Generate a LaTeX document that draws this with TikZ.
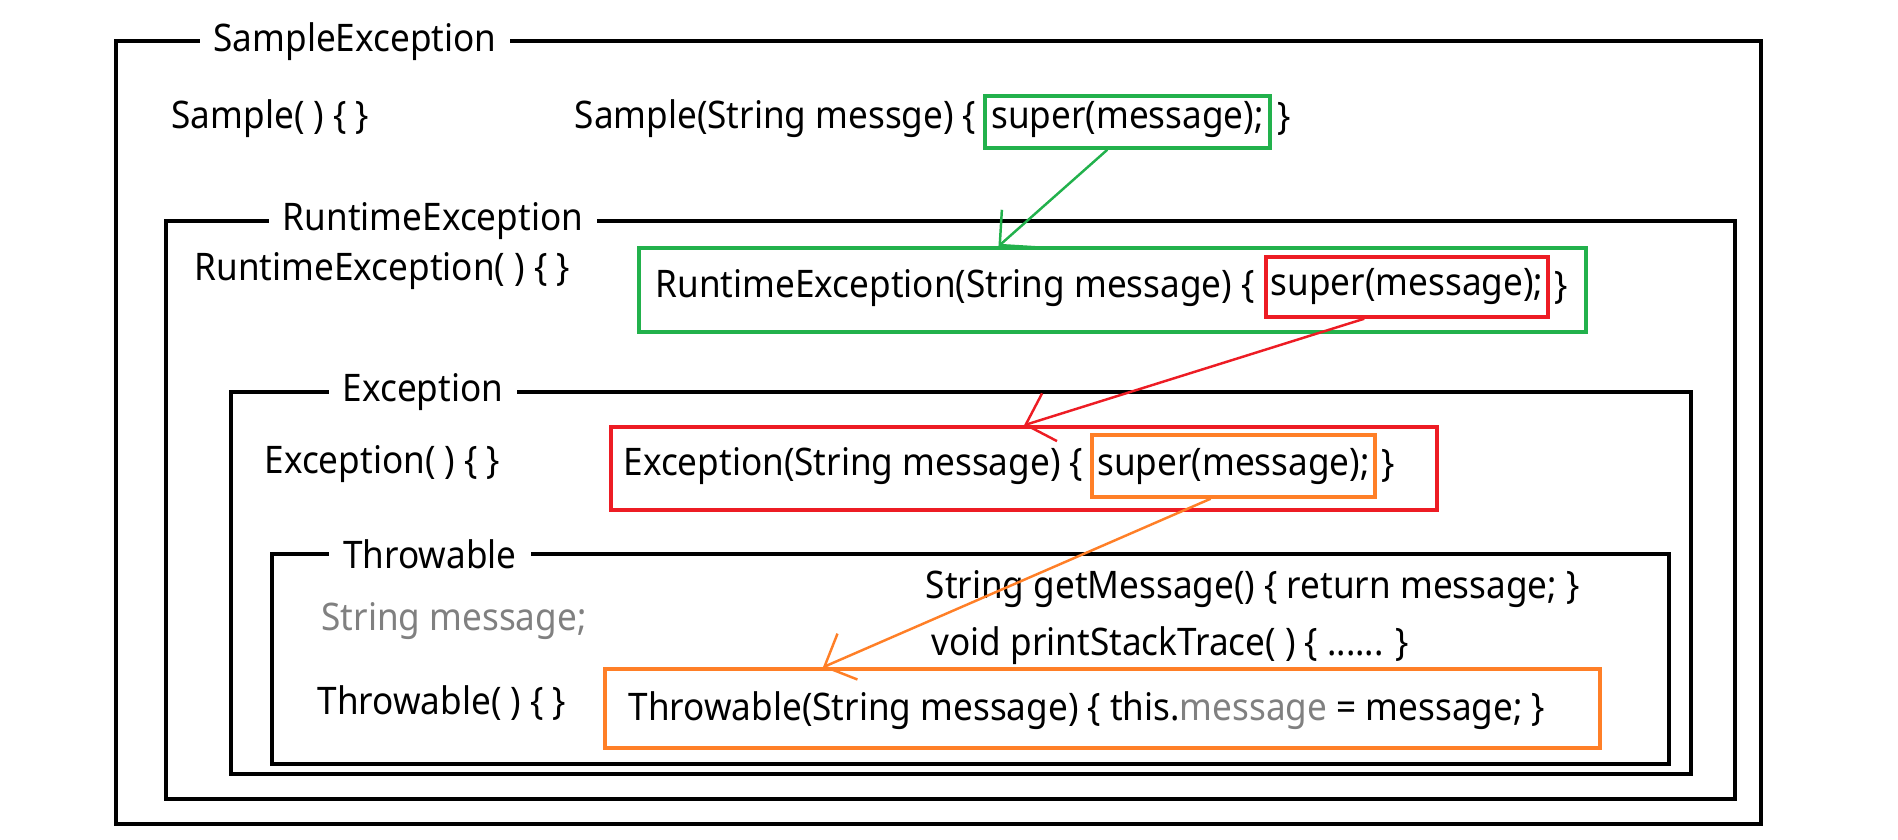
\documentclass[tikz,border=0pt]{standalone}
\usepackage{fontspec}
\setmainfont{Noto Sans}[FakeStretch=0.925]
\usetikzlibrary{positioning,calc,arrows.meta,fit}
\definecolor{callgreen}{RGB}{34,177,76}
\definecolor{callred}{RGB}{237,28,36}
\definecolor{callorange}{RGB}{255,127,39}
\definecolor{fieldgray}{RGB}{128,128,128}
\begin{document}
\begin{tikzpicture}[x=0.01cm, y=-0.01cm,
  font=\fontsize{10.8}{13}\selectfont,
  clsframe/.style={draw, line width=1.4pt, inner sep=0pt},
  clstitle/.style={fill=white, inner xsep=4pt, inner ysep=1pt},
  txt/.style={inner sep=0pt, anchor=west},
  ctorbox/.style={draw=#1, line width=1pt, inner sep=0pt},
  call/.style={->, line width=0.7pt},
  >={Straight Barb[length=2.5mm]}]
\useasboundingbox (0,0) rectangle (1898,840);
% class frames
\node[clsframe, fit={(116,41) (1761,824)}] (sample) {};
\node[clsframe, fit={(166,221) (1735,799)}] (runtime) {};
\node[clsframe, fit={(231,392) (1691,774)}] (exception) {};
\node[clsframe, fit={(272,554) (1669,764)}] (throwable) {};
\node[clstitle] (sampleT) at (355,42) {SampleException};
\node[clstitle] (runtimeT) at (433,221) {RuntimeException};
\node[clstitle] (exceptionT) at (423,392) {Exception};
\node[clstitle] (throwableT) at (430,554) {Throwable};
% SampleException
\node[txt] (sampleDef) at (171,119) {Sample( ) \{ \}};
\node[txt] (sampleSig) at (574,119) {Sample(String messge) \{};
\node[ctorbox=callgreen, fit={(985,96) (1270,148)}] (supA) {};
\node (supAtxt) at ($(supA.center)+(0,-2)$) {super(message);};
\node[txt] (sampleEnd) at (1277,119) {\}};
% RuntimeException
\node[txt] (runtimeDef) at (194,271) {RuntimeException( ) \{ \}};
\node[ctorbox=callgreen, fit={(639,248) (1586,332)}] (runtimeBox) {};
\node[txt] (runtimeSig) at (655,288) {RuntimeException(String message) \{};
\node[ctorbox=callred, fit={(1266,257) (1548,317)}] (supB) {};
\node (supBtxt) at (supB.center) {super(message);};
\node[txt] (runtimeEnd) at (1554,288) {\}};
% Exception
\node[txt] (exceptionDef) at (264,464) {Exception( ) \{ \}};
\node[ctorbox=callred, fit={(611,427) (1437,510)}] (exceptionBox) {};
\node[txt] (exceptionSig) at (623,466) {Exception(String message) \{};
\node[ctorbox=callorange, fit={(1092,435) (1375,497)}] (supC) {};
\node (supCtxt) at (supC.center) {super(message);};
\node[txt] (exceptionEnd) at (1381,466) {\}};
% Throwable
\node[txt, text=fieldgray] (field) at (321,621) {String message;};
\node[txt] (getMsg) at (925,589) {String getMessage() \{ return message; \}};
\node[txt] (printST) at (931,646) {void printStackTrace( ) \{ ...... \}};
\node[txt] (throwableDef) at (317,703) {Throwable( ) \{ \}};
\node[ctorbox=callorange, fit={(605,669) (1600,748)}] (throwableBox) {};
\node[txt] (throwableSig) at (628,711) {Throwable(String message) \{ this.\textcolor{fieldgray}{message} = message; \}};
% super calls
\draw[call, callgreen] ($(supA.south west)!0.43!(supA.south east)$) -- ($(runtimeBox.north west)!0.38!(runtimeBox.north east)$);
\draw[call, callred] ($(supB.south west)!0.35!(supB.south east)$) -- (exceptionBox.north);
\draw[call, callorange] ($(supC.south west)!0.42!(supC.south east)$) -- ($(throwableBox.north west)!0.22!(throwableBox.north east)$);
\end{tikzpicture}
\end{document}
